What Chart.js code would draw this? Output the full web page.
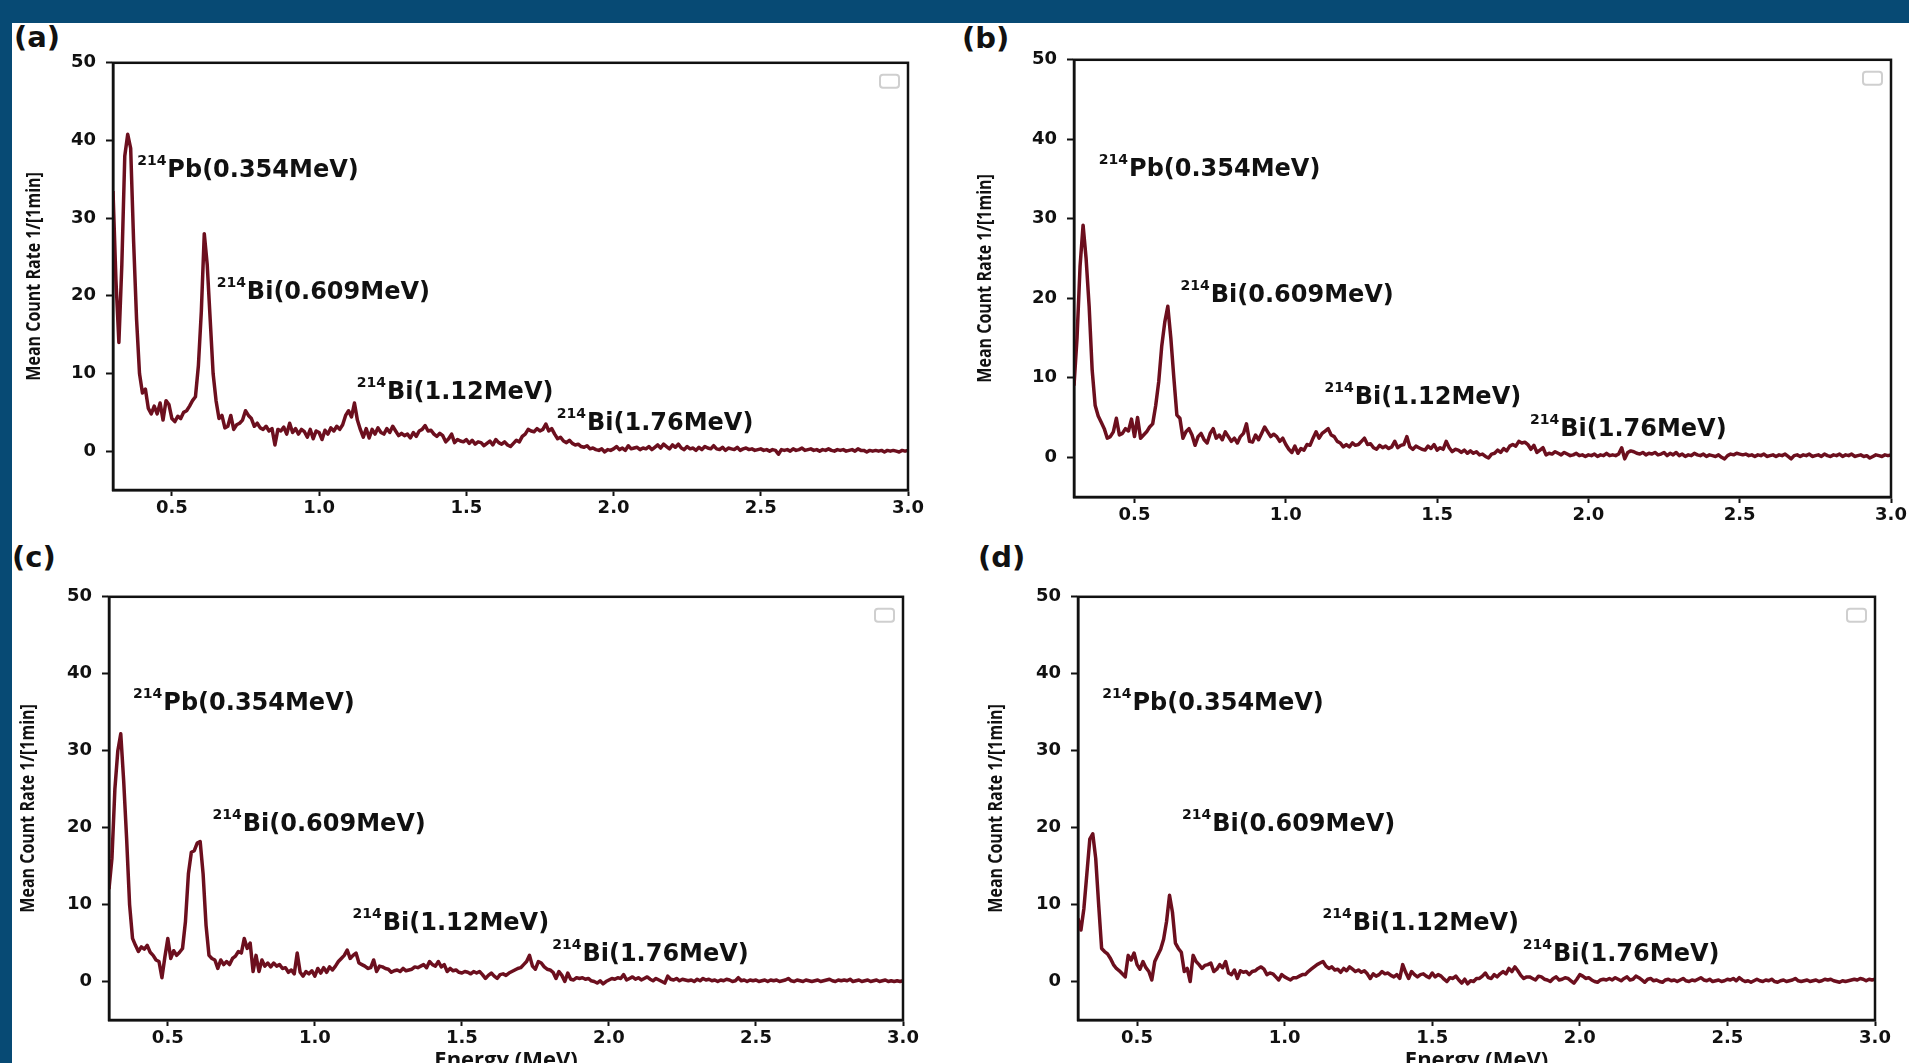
<!DOCTYPE html>
<html>
<head>
<meta charset="utf-8">
<script src="https://cdn.jsdelivr.net/npm/chart.js@4.4.1/dist/chart.umd.min.js"></script>
<style>
  html, body { margin: 0; padding: 0; background: #fff; }
  body { width: 1909px; height: 1063px; overflow: hidden; position: relative; }
  .band-top { position: absolute; left: 0; top: 0; width: 1909px; height: 23px; background: #074a74; }
  .band-left { position: absolute; left: 0; top: 0; width: 12px; height: 1063px; background: #074a74; }
  .tag { position: absolute; font: bold 29px "DejaVu Sans"; line-height: 29px; color: #111; }
  canvas { position: absolute; }
</style>
</head>
<body>
<div class="band-top"></div>
<div class="band-left"></div>
<div class="tag" style="left:14px;top:23px">(a)</div>
<div class="tag" style="left:962px;top:24px">(b)</div>
<div class="tag" style="left:12px;top:543px">(c)</div>
<div class="tag" style="left:978px;top:543px">(d)</div>
<script>
// spectra, one value per 0.01 MeV channel from 0.30 to 3.00 MeV
const countsA = [
  33.5, 22, 14, 24, 38, 40.8, 39, 27, 17, 10,
  7.5, 8, 5.5, 4.8, 5.8, 4.8, 6.2, 4, 6.5, 6,
  4.2, 3.8, 4.5, 4.2, 5, 5.2, 5.8, 6.5, 7, 11,
  18, 28, 24, 17, 10, 6.5, 4.2, 4.6, 3, 3.2,
  4.6, 2.8, 3.4, 3.6, 4, 5.2, 4.6, 4.2, 3.2, 3.6,
  3, 2.8, 3.2, 2.6, 2.9, 0.8, 2.8, 2.6, 3.1, 2.2,
  3.6, 2.4, 2.9, 2.2, 2.8, 2.5, 1.8, 2.8, 1.6, 2.6,
  2.4, 1.5, 2.7, 2.2, 3.0, 2.6, 3.2, 2.8, 3.4, 4.6,
  5.2, 4.4, 6.2, 4.0, 2.8, 1.8, 2.9, 1.7, 2.8, 2.2,
  3.0, 2.4, 2.2, 2.9, 2.4, 3.2, 2.6, 2.0, 2.3, 2.0,
  2.2, 1.7, 2.4, 1.9, 2.6, 2.8, 3.3, 2.6, 2.7, 2.2,
  1.9, 2.3, 2.0, 1.2, 1.6, 2.2, 1.1, 1.5, 1.3, 1.2,
  1.5, 1.0, 1.4, 0.9, 1.2, 1.1, 0.7, 1.0, 1.3, 0.8,
  1.5, 1.1, 0.9, 1.2, 0.8, 0.6, 1.0, 1.4, 1.2, 1.9,
  2.2, 2.8, 2.6, 2.5, 2.9, 2.6, 2.8, 3.5, 2.6, 2.9,
  2.2, 1.6, 1.8, 1.3, 1.1, 1.4, 1.0, 0.8, 0.9, 0.6,
  0.5, 0.7, 0.3, 0.4, 0.2, 0.1, 0.3, -0.1, 0.2, 0.1,
  0.3, 0.6, 0.2, 0.4, 0.1, 0.7, 0.3, 0.4, 0.5, 0.2,
  0.4, 0.3, 0.6, 0.2, 0.5, 0.8, 0.4, 0.9, 0.6, 0.3,
  0.8, 0.5, 0.9, 0.4, 0.2, 0.6, 0.3, 0.4, 0.1, 0.5,
  0.2, 0.6, 0.4, 0.3, 0.7, 0.3, 0.2, 0.5, 0.1, 0.4,
  0.3, 0.2, 0.5, 0.1, 0.3, 0.4, 0.2, 0.3, 0.1, 0.2,
  0.3, 0.1, 0.2, 0.0, 0.2, 0.1, -0.4, 0.2, 0.1, 0.2,
  0.0, 0.3, 0.1, 0.2, 0.4, 0.1, 0.2, 0.3, 0.1, 0.2,
  0.0, 0.2, 0.1, 0.3, 0.1, 0.0, 0.2, 0.1, 0.2, 0.0,
  0.1, 0.2, 0.0, 0.3, 0.1, 0.1, -0.1, 0.1, 0.0, 0.1,
  0.0, 0.1, -0.1, 0.1, 0.0, 0.1, 0.0, -0.1, 0.1, 0.0,
  0.1
];
const countsB = [
  9, 15, 24, 29.2, 25, 19, 11, 6.5, 5.2, 4.4,
  3.6, 2.4, 2.6, 3.2, 4.9, 2.8, 3.0, 3.6, 3.3, 4.8,
  2.6, 5.0, 2.4, 2.8, 3.2, 3.8, 4.2, 6.5, 9.5, 14,
  17, 19, 15, 10, 5.3, 4.9, 2.4, 3.2, 3.6, 2.8,
  1.5, 2.6, 3.0, 2.2, 1.8, 3.0, 3.6, 2.4, 2.8, 2.2,
  3.2, 2.6, 2.0, 2.4, 1.8, 2.6, 3.0, 4.2, 2.0, 1.9,
  2.8, 2.2, 3.0, 3.8, 3.2, 2.6, 2.9, 2.6, 2.0, 2.4,
  1.6, 1.0, 0.6, 1.4, 0.5, 1.1, 0.9, 1.6, 1.5, 2.4,
  3.2, 2.4, 3.0, 3.3, 3.6, 2.8, 2.6, 2.0, 1.8, 1.3,
  1.6, 1.3, 1.8, 1.5, 1.6, 2.0, 2.4, 1.6, 1.7, 1.2,
  1.0, 1.5, 1.2, 1.4, 1.1, 1.3, 2.0, 1.2, 1.5, 1.6,
  2.6, 1.3, 1.0, 1.4, 1.2, 1.0, 0.9, 1.4, 1.1, 1.6,
  0.9, 1.2, 1.0, 2.0, 1.2, 0.7, 1.0, 0.9, 0.6, 0.9,
  0.5, 0.8, 0.5, 0.7, 0.3, 0.4, 0.1, -0.1, 0.4, 0.5,
  0.9, 0.6, 1.1, 0.8, 1.4, 1.6, 1.4, 2.0, 1.8, 1.9,
  1.6, 1.0, 1.5, 0.6, 0.9, 1.2, 0.3, 0.5, 0.4, 0.7,
  0.5, 0.3, 0.6, 0.4, 0.2, 0.3, 0.5, 0.2, 0.3, 0.1,
  0.3, 0.2, 0.4, 0.1, 0.3, 0.2, 0.5, 0.2, 0.3, 0.2,
  0.4, 1.2, -0.2, 0.6, 0.8, 0.7, 0.5, 0.4, 0.6, 0.3,
  0.5, 0.4, 0.6, 0.3, 0.4, 0.6, 0.2, 0.5, 0.3, 0.6,
  0.2, 0.4, 0.1, 0.3, 0.2, 0.5, 0.3, 0.2, 0.4, 0.1,
  0.3, 0.2, 0.1, 0.3, 0.0, -0.2, 0.2, 0.4, 0.3, 0.5,
  0.4, 0.3, 0.4, 0.2, 0.3, 0.1, 0.3, 0.2, 0.4, 0.1,
  0.2, 0.3, 0.1, 0.3, 0.2, 0.4, 0.1, -0.2, 0.2, 0.3,
  0.1, 0.3, 0.2, 0.4, 0.1, 0.2, 0.3, 0.1, 0.4, 0.2,
  0.1, 0.3, 0.2, 0.4, 0.1, 0.3, 0.2, 0.4, 0.1, 0.2,
  0.3, 0.1, 0.2, -0.1, 0.1, 0.3, 0.2, 0.1, 0.3, 0.2,
  0.3
];
const countsC = [
  12, 16, 25, 30, 32.2, 26, 18.5, 10, 5.6, 4.7,
  3.9, 4.5, 4.2, 4.7, 3.8, 3.4, 2.8, 2.6, 0.5, 3.2,
  5.6, 3.0, 4.0, 3.4, 3.8, 4.3, 7.8, 14, 16.8, 17,
  18, 18.2, 14, 7.3, 3.4, 3.0, 2.8, 1.7, 2.8, 2.2,
  2.6, 2.2, 3.0, 3.3, 3.9, 3.7, 5.6, 4.3, 5.0, 1.3,
  3.4, 1.3, 2.8, 2.0, 2.4, 1.9, 2.4, 2.0, 2.2, 1.7,
  1.8, 1.2, 1.5, 1.0, 3.7, 1.2, 0.7, 1.3, 1.0, 1.4,
  0.7, 1.7, 1.1, 1.8, 1.2, 1.9, 1.5, 2.0, 2.6, 3.0,
  3.4, 4.1, 3.0, 3.4, 3.7, 2.4, 2.2, 2.0, 1.7, 1.8,
  2.8, 1.3, 2.0, 1.9, 1.7, 1.6, 1.2, 1.4, 1.5, 1.3,
  1.7, 1.4, 1.5, 1.6, 1.9, 1.8, 2.0, 2.2, 1.8, 2.6,
  2.2, 2.0, 2.6, 1.9, 2.2, 1.3, 1.7, 1.4, 1.5, 1.2,
  1.1, 1.3, 1.2, 1.0, 1.3, 1.1, 1.3, 0.9, 0.4, 0.8,
  1.1, 0.7, 0.4, 0.9, 1.0, 0.8, 1.1, 1.3, 1.5, 1.7,
  1.8, 2.2, 2.6, 3.4, 2.0, 1.6, 2.6, 2.4, 1.9, 1.6,
  1.5, 1.2, 0.4, 1.3, 0.8, 0.0, 1.1, 0.3, 0.2, 0.5,
  0.4, 0.5, 0.3, 0.4, 0.1, 0.0, -0.2, 0.1, -0.3, 0.0,
  0.2, 0.4, 0.3, 0.5, 0.4, 0.9, 0.2, 0.4, 0.6, 0.3,
  0.5, 0.2, 0.4, 0.6, 0.3, 0.1, 0.4, 0.2, 0.0, -0.2,
  0.7, 0.3, 0.2, 0.4, 0.1, 0.3, 0.2, 0.1, 0.2, 0.0,
  0.3, 0.1, 0.4, 0.2, 0.3, 0.1, 0.2, 0.0, 0.2, 0.1,
  0.3, 0.2, 0.0, 0.1, 0.5, 0.1, 0.2, 0.0, 0.2, 0.1,
  0.2, 0.0, 0.1, 0.2, 0.0, 0.2, 0.1, 0.2, 0.0, 0.1,
  0.2, 0.4, 0.1, 0.0, 0.2, 0.1, 0.0, 0.2, 0.1, 0.0,
  0.1, 0.2, 0.0, 0.1, 0.2, 0.3, 0.1, 0.0, 0.2, 0.1,
  0.2, 0.1, 0.3, 0.0, 0.1, 0.2, 0.0, 0.1, 0.2, 0.0,
  0.1, 0.2, 0.0, 0.1, 0.2, 0.0, 0.1, 0.0, 0.1, 0.0,
  0.1
];
const countsD = [
  8.2, 6.7, 9.5, 14, 18.5, 19.2, 16, 10, 4.3, 3.9,
  3.6, 3.0, 2.2, 1.7, 1.4, 1.0, 0.6, 3.4, 2.8, 3.7,
  2.2, 1.6, 2.6, 1.8, 1.3, 0.2, 2.6, 3.4, 4.2, 5.5,
  7.8, 11.2, 9.0, 5.0, 4.3, 3.8, 1.3, 1.7, 0.0, 3.4,
  2.6, 2.2, 1.7, 2.1, 2.2, 2.4, 1.3, 1.6, 2.2, 1.8,
  2.6, 1.1, 0.9, 1.5, 0.4, 1.4, 1.2, 1.3, 0.9, 1.3,
  1.4, 1.7, 1.9, 1.6, 0.9, 1.1, 1.0, 0.6, 0.2, 0.9,
  0.6, 0.4, 0.2, 0.5, 0.5, 0.7, 0.9, 0.9, 1.3, 1.6,
  1.9, 2.2, 2.4, 2.6, 2.0, 1.7, 1.9, 1.5, 1.6, 1.2,
  1.7, 1.4, 1.9, 1.6, 1.3, 1.5, 1.2, 1.4, 1.0, 0.4,
  1.0, 0.7, 0.9, 1.3, 1.0, 1.1, 0.8, 0.6, 0.9, 0.4,
  2.2, 1.2, 0.4, 1.3, 0.9, 0.6, 0.9, 1.0, 0.7, 0.5,
  1.1, 0.6, 0.9, 0.7, 0.3, 0.0, 0.5, 0.4, 0.7, 0.2,
  -0.2, 0.3, -0.3, 0.1, 0.0, 0.4, 0.4, 0.7, 1.1, 0.5,
  0.4, 0.9, 0.6, 1.0, 1.3, 1.0, 1.7, 1.3, 1.9, 1.4,
  0.8, 0.4, 0.6, 0.6, 0.4, 0.2, 0.7, 0.6, 0.3, 0.2,
  0.0, 0.4, 0.6, 0.2, 0.3, 0.5, 0.4, 0.1, -0.2, 0.3,
  0.9, 0.7, 0.4, 0.5, 0.2, 0.0, -0.1, 0.2, 0.3, 0.2,
  0.4, 0.2, 0.5, 0.3, 0.1, 0.4, 0.6, 0.2, 0.3, 0.7,
  0.5, 0.2, -0.1, 0.3, 0.4, 0.1, 0.2, 0.0, -0.1, 0.2,
  0.3, 0.1, 0.2, 0.0, 0.2, 0.4, 0.1, 0.0, 0.2, 0.1,
  0.3, 0.5, 0.2, 0.1, 0.3, 0.0, 0.1, 0.2, 0.0, 0.1,
  0.3, 0.2, 0.4, 0.1, 0.5, 0.2, 0.0, 0.1, -0.1, 0.1,
  0.3, 0.1, 0.0, 0.2, 0.1, 0.3, 0.0, -0.1, 0.1, 0.2,
  0.0, 0.1, 0.2, 0.4, 0.1, 0.0, 0.1, 0.2, 0.0, 0.1,
  0.2, 0.0, 0.1, 0.3, 0.2, 0.3, 0.1, 0.0, -0.1, 0.1,
  0.0, 0.1, 0.2, 0.3, 0.2, 0.4, 0.3, 0.1, 0.3, 0.2,
  0.3
];
const energyStart = 0.30;
const energyStep = 0.01;

const xTicks = [0.5, 1.0, 1.5, 2.0, 2.5, 3.0];
const yTicks = [0, 10, 20, 30, 40, 50];

const peakMass = ['214', '214', '214', '214'];
const peakNames = ['Pb(0.354MeV)', 'Bi(0.609MeV)', 'Bi(1.12MeV)', 'Bi(1.76MeV)'];
const peakLabelX = [0.382, 0.652, 1.128, 1.807];
const peakLabelY = [36.5, 20.7, 7.85, 3.85];

// where each plot box sits on the page
const panels = [
  { counts: countsA, L: 113, T: 58, R: 908, B: 490, titleOff: 79, xTitle: false },
  { counts: countsB, L: 1074, T: 55, R: 1891, B: 497, titleOff: 89, xTitle: false },
  { counts: countsC, L: 109, T: 592, R: 903, B: 1020, titleOff: 81, xTitle: true },
  { counts: countsD, L: 1078, T: 592, R: 1875, B: 1020, titleOff: 82, xTitle: true }
];

Chart.defaults.font.family = '"DejaVu Sans"';
Chart.defaults.color = '#111';

const peakLabels = {
  id: 'peakLabels',
  afterDatasetsDraw(chart) {
    const { ctx, scales: { x, y } } = chart;
    ctx.save();
    ctx.fillStyle = '#111';
    ctx.textBaseline = 'alphabetic';
    ctx.textAlign = 'left';
    peakNames.forEach((name, i) => {
      const px = x.getPixelForValue(peakLabelX[i]);
      const py = y.getPixelForValue(peakLabelY[i]);
      ctx.font = 'bold 14px "DejaVu Sans"';
      ctx.fillText(peakMass[i], px, py - 3);
      const w = ctx.measureText(peakMass[i]).width;
      ctx.font = 'bold 24px "DejaVu Sans"';
      ctx.fillText(name, px + w + 1, py + 9);
    });
    ctx.restore();
  }
};

// condensed rotated y-axis title, plus frame and empty legend box
const frameBox = {
  id: 'frameBox',
  afterDraw(chart, args, opts) {
    const { ctx, chartArea: a } = chart;
    ctx.save();
    ctx.strokeStyle = '#111';
    ctx.lineWidth = 2.5;
    ctx.strokeRect(a.left, a.top, a.right - a.left, a.bottom - a.top);
    ctx.strokeStyle = '#cfcfcf';
    ctx.lineWidth = 2;
    ctx.beginPath();
    ctx.roundRect(a.right - 28, a.top + 12, 19, 13, 3);
    ctx.stroke();

    ctx.translate(a.left - opts.titleOff, (a.top + a.bottom) / 2);
    ctx.rotate(-Math.PI / 2);
    ctx.scale(0.8, 1);
    ctx.fillStyle = '#111';
    ctx.textAlign = 'center';
    ctx.textBaseline = 'middle';
    ctx.font = 'bold 20px "Open Sans"';
    ctx.fillText('Mean Count Rate 1/[1min]', 0, 0);
    ctx.restore();
  }
};

panels.forEach(p => {
  const padL = Math.round(p.titleOff + 14);
  const padT = 16, padR = 22;
  const padB = p.xTitle ? 58 : 40;
  const canvas = document.createElement('canvas');
  canvas.width = (p.R - p.L) + padL + padR;
  canvas.height = (p.B - p.T) + padT + padB;
  canvas.style.left = (p.L - padL) + 'px';
  canvas.style.top = (p.T - padT) + 'px';
  canvas.style.width = canvas.width + 'px';
  canvas.style.height = canvas.height + 'px';
  document.body.appendChild(canvas);

  const points = p.counts.map((v, i) => ({ x: energyStart + i * energyStep, y: v }));

  new Chart(canvas, {
    type: 'line',
    data: {
      datasets: [{
        data: points,
        borderColor: '#6c0f1e',
        borderWidth: 3.5,
        pointRadius: 0,
        tension: 0,
        borderJoinStyle: 'round'
      }]
    },
    options: {
      responsive: false,
      animation: false,
      devicePixelRatio: 1,
      layout: { padding: { left: 0, top: padT, right: padR, bottom: 0 } },
      plugins: {
        legend: { display: false },
        tooltip: { enabled: false },
        frameBox: { titleOff: p.titleOff }
      },
      scales: {
        x: {
          type: 'linear',
          min: 0.3,
          max: 3.0,
          afterBuildTicks: s => { s.ticks = xTicks.map(v => ({ value: v })); },
          afterFit: s => { s.height = padB; },
          ticks: {
            callback: v => v.toFixed(1),
            font: { size: 18, weight: 'bold' },
            color: '#111',
            padding: 2,
            maxRotation: 0,
            autoSkip: false
          },
          grid: { drawOnChartArea: false, drawTicks: true, tickLength: 6, tickColor: '#111', tickWidth: 2 },
          border: { display: true, color: '#111', width: 2.5 },
          title: {
            display: p.xTitle,
            text: 'Energy (MeV)',
            font: { family: '"Open Sans"', size: 22, weight: 'bold' },
            color: '#111',
            padding: { top: 0, bottom: 4 }
          }
        },
        y: {
          min: -5,
          max: 50,
          afterBuildTicks: s => { s.ticks = yTicks.map(v => ({ value: v })); },
          afterFit: s => { s.width = padL; },
          ticks: {
            callback: v => String(v),
            font: { size: 18, weight: 'bold' },
            color: '#111',
            padding: 10
          },
          grid: { drawOnChartArea: false, drawTicks: true, tickLength: 7, tickColor: '#111', tickWidth: 2 },
          border: { display: true, color: '#111', width: 2.5 }
        }
      }
    },
    plugins: [peakLabels, frameBox]
  });
});
</script>
</body>
</html>
